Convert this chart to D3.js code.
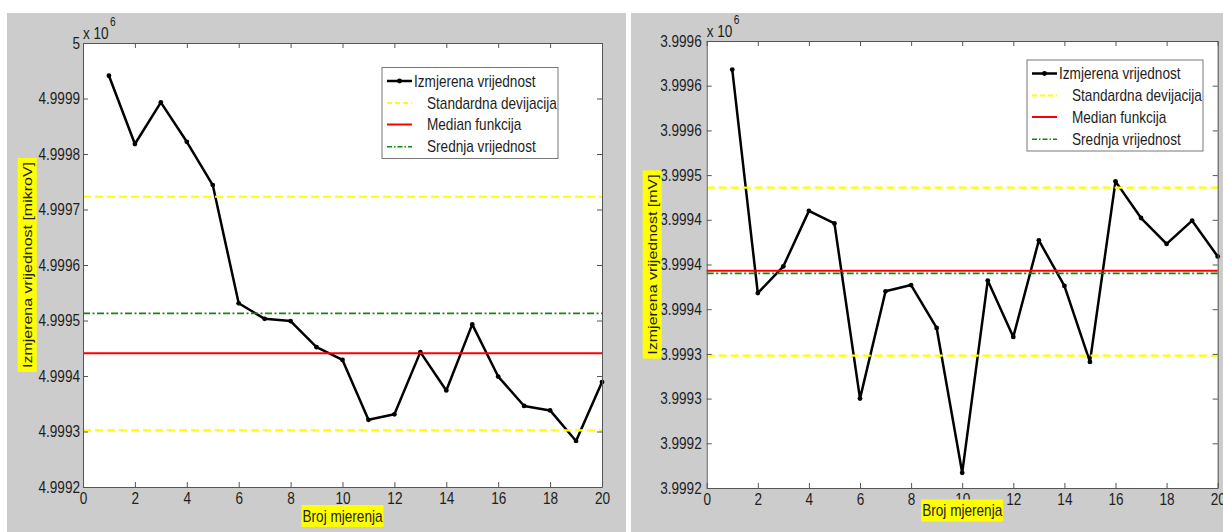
<!DOCTYPE html>
<html>
<head>
<meta charset="utf-8">
<style>
    body { margin: 0; background: #ffffff; }
    text { font-family: "Liberation Sans", Arial, sans-serif; fill: #1e1e1e; }
</style>
</head>
<body>
<script src="https://cdn.jsdelivr.net/npm/d3@7/dist/d3.min.js"></script>
<script type="text/javascript">
    var width = 1223, height = 532;

    // x: broj mjerenja
    var measurements = [1, 2, 3, 4, 5, 6, 7, 8, 9, 10, 11, 12, 13, 14, 15, 16, 17, 18, 19, 20];
    var xTicks = [0, 2, 4, 6, 8, 10, 12, 14, 16, 18, 20];

    // lijevi graf (x 10^6 mikroV)
    var leftValues = [4.999941, 4.999818, 4.999893, 4.999822, 4.999744, 4.999531, 4.999503,
                      4.999499, 4.999452, 4.999429, 4.999321, 4.999331, 4.999443, 4.999374,
                      4.999493, 4.999399, 4.999346, 4.999338, 4.999283, 4.999389];
    var leftYTicks = [4.9992, 4.9993, 4.9994, 4.9995, 4.9996, 4.9997, 4.9998, 4.9999, 5.0];
    var leftYTickLabels = ['4.9992', '4.9993', '4.9994', '4.9995', '4.9996', '4.9997', '4.9998', '4.9999', '5'];
    var leftStd = [4.999723, 4.999302];
    var leftMedian = 4.999441;
    var leftMean = 4.999513;

    // desni graf (x 10^6 mV)
    var rightValues = [3.999668, 3.999418, 3.999448, 3.999510, 3.999496, 3.999300, 3.999420,
                       3.999427, 3.999379, 3.999217, 3.999432, 3.999369, 3.999477, 3.999426,
                       3.999341, 3.999543, 3.999502, 3.999473, 3.999499, 3.999459];
    var rightYTicks = [3.9992, 3.99925, 3.9993, 3.99935, 3.9994, 3.99945, 3.9995, 3.99955, 3.9996, 3.99965, 3.9997];
    var rightYTickLabels = ['3.9992', '3.9992', '3.9993', '3.9993', '3.9994', '3.9994', '3.9994', '3.9995', '3.9996', '3.9996', '3.9996'];
    var rightStd = [3.999536, 3.999348];
    var rightMedian = 3.999443;
    var rightMean = 3.999440;

    var legendLabels = ['Izmjerena vrijednost', 'Standardna devijacija', 'Median funkcija', 'Srednja vrijednost'];

    var squeeze = 0.85;

    var svg = d3.select('body').append('svg')
        .attr('width', width).attr('height', height);

    function squeezedText(parent, x, y, str, anchor, size) {
        var g = parent.append('g').attr('transform', 'translate(' + x + ',' + y + ')');
        return g.append('text')
            .attr('transform', 'scale(' + squeeze + ',1)')
            .attr('text-anchor', anchor || 'start')
            .attr('dy', '0.35em')
            .style('font-size', (size || 16) + 'px')
            .text(str);
    }

    function drawPanel(p) {
        var panel = svg.append('g');
        panel.append('rect')
            .attr('x', p.bgX0).attr('y', 13)
            .attr('width', p.bgX1 - p.bgX0).attr('height', height - 13)
            .attr('fill', '#cccccc');

        var x = d3.scaleLinear().domain([0, 20]).range([p.left, p.right]);
        var y = d3.scaleLinear()
            .domain([p.yTicks[0], p.yTicks[p.yTicks.length - 1]])
            .range([p.bottom, p.top]);

        panel.append('rect')
            .attr('x', p.left).attr('y', p.top)
            .attr('width', p.right - p.left).attr('height', p.bottom - p.top)
            .attr('fill', '#ffffff');

        // izmjerena vrijednost
        var line = d3.line()
            .x(function (d, i) { return x(measurements[i]); })
            .y(function (d) { return y(d); });
        panel.append('path')
            .datum(p.values)
            .attr('d', line)
            .attr('fill', 'none').attr('stroke', '#000').attr('stroke-width', 2.5)
            .attr('stroke-linejoin', 'round');
        panel.selectAll('circle.pt')
            .data(p.values)
            .enter().append('circle')
            .attr('class', 'pt')
            .attr('cx', function (d, i) { return x(measurements[i]); })
            .attr('cy', function (d) { return y(d); })
            .attr('r', 2.4)
            .attr('fill', '#000');

        // referentne linije
        var refs = [
            { v: p.std[0], color: '#ffff00', dash: '8,4', w: 2.2 },
            { v: p.std[1], color: '#ffff00', dash: '8,4', w: 2.2 },
            { v: p.median, color: '#ff0000', dash: null, w: 2 },
            { v: p.mean, color: '#118811', dash: '7,2.5,2,2.5', w: 1.7 }
        ];
        panel.selectAll('line.ref')
            .data(refs)
            .enter().append('line')
            .attr('class', 'ref')
            .attr('x1', p.left).attr('x2', p.right)
            .attr('y1', function (d) { return y(d.v); })
            .attr('y2', function (d) { return y(d.v); })
            .attr('stroke', function (d) { return d.color; })
            .attr('stroke-width', function (d) { return d.w; })
            .attr('stroke-dasharray', function (d) { return d.dash; });

        // osi
        var gLeft = panel.append('g')
            .attr('transform', 'translate(' + p.left + ',0)')
            .call(d3.axisLeft(y).tickValues(p.yTicks)
                .tickFormat(function (d, i) { return p.yLabels[i]; })
                .tickSizeInner(-5).tickSizeOuter(0));
        gLeft.selectAll('text')
            .attr('x', -p.labelGap / squeeze)
            .attr('transform', 'scale(' + squeeze + ',1)')
            .style('font-size', '16px').attr('font-family', null);

        var gBottom = panel.append('g')
            .attr('transform', 'translate(0,' + p.bottom + ')')
            .call(d3.axisBottom(x).tickValues(xTicks).tickSizeInner(-5).tickSizeOuter(0));
        gBottom.selectAll('text')
            .attr('y', 6)
            .attr('transform', 'scale(' + squeeze + ',1)')
            .style('font-size', '16px').attr('font-family', null);

        panel.append('g')
            .attr('transform', 'translate(' + p.right + ',0)')
            .call(d3.axisRight(y).tickValues(p.yTicks).tickFormat('').tickSizeInner(-5).tickSizeOuter(0));
        panel.append('g')
            .attr('transform', 'translate(0,' + p.top + ')')
            .call(d3.axisTop(x).tickValues(xTicks).tickFormat('').tickSizeInner(-5).tickSizeOuter(0));

        panel.selectAll('.domain, .tick line').attr('stroke', '#555');

        // x 10^6
        squeezedText(panel, p.left, p.top - 10, 'x 10', 'start', 16);
        squeezedText(panel, p.left + 27, p.top - 21, '6', 'start', 12);

        // naziv x osi
        var xl = squeezedText(panel, (p.left + p.right) / 2, p.xLabelY, 'Broj mjerenja', 'middle', 16);
        var xlw = xl.node().getComputedTextLength() * squeeze;
        panel.insert('rect', function () { return xl.node().parentNode; })
            .attr('x', (p.left + p.right) / 2 - xlw / 2 - 1).attr('y', p.xLabelY - 11)
            .attr('width', xlw + 2).attr('height', 22)
            .attr('fill', '#ffff00');

        // naziv y osi
        var cy = (p.top + p.bottom) / 2;
        var yl = panel.append('text')
            .attr('transform', 'translate(' + p.yLabelX + ',' + cy + ') rotate(-90) scale(1,' + squeeze + ')')
            .attr('text-anchor', 'middle').attr('dy', '0.35em')
            .style('font-size', '16px')
            .text(p.yTitle);
        var ylw = yl.node().getComputedTextLength();
        panel.insert('rect', function () { return yl.node(); })
            .attr('x', p.yLabelX - 9.5).attr('y', cy - ylw / 2 - 4)
            .attr('width', 19).attr('height', ylw + 8)
            .attr('fill', '#ffff00');

        // legenda
        var lg = panel.append('g').attr('transform', 'translate(' + p.legX + ',' + p.legY + ')');
        lg.append('rect')
            .attr('width', 176).attr('height', 91)
            .attr('fill', '#ffffff').attr('stroke', '#777').attr('stroke-width', 1);
        var rowY = [13.5, 35.5, 57, 79.3];
        var styles = [
            { color: '#000', dash: null, w: 2.5 },
            { color: '#ffff00', dash: '5,3', w: 2 },
            { color: '#ff0000', dash: null, w: 2 },
            { color: '#118811', dash: '5,2,1.5,2', w: 1.5 }
        ];
        legendLabels.forEach(function (lab, i) {
            lg.append('line')
                .attr('x1', 5).attr('x2', 30)
                .attr('y1', rowY[i]).attr('y2', rowY[i])
                .attr('stroke', styles[i].color)
                .attr('stroke-width', styles[i].w)
                .attr('stroke-dasharray', styles[i].dash);
            if (i === 0) {
                lg.append('circle').attr('cx', 17.5).attr('cy', rowY[i]).attr('r', 2.4).attr('fill', '#000');
            }
            squeezedText(lg, i === 0 ? 32 : 45, rowY[i], lab, 'start', 16);
        });
    }

    drawPanel({
        bgX0: 7, bgX1: 626,
        left: 83, right: 602, top: 43, bottom: 487,
        values: leftValues, yTicks: leftYTicks, yLabels: leftYTickLabels,
        std: leftStd, median: leftMedian, mean: leftMean,
        labelGap: 3, xLabelY: 516, yLabelX: 27.2,
        yTitle: 'Izmjerena vrijednost [mikroV]',
        legX: 382, legY: 67.5
    });

    drawPanel({
        bgX0: 631, bgX1: 1223,
        left: 706.7, right: 1217.7, top: 41, bottom: 488,
        values: rightValues, yTicks: rightYTicks, yLabels: rightYTickLabels,
        std: rightStd, median: rightMedian, mean: rightMean,
        labelGap: 5, xLabelY: 510.5, yLabelX: 652.2,
        yTitle: 'Izmjerena vrijednost [mV]',
        legX: 1027, legY: 60
    });
</script>
</body>
</html>
